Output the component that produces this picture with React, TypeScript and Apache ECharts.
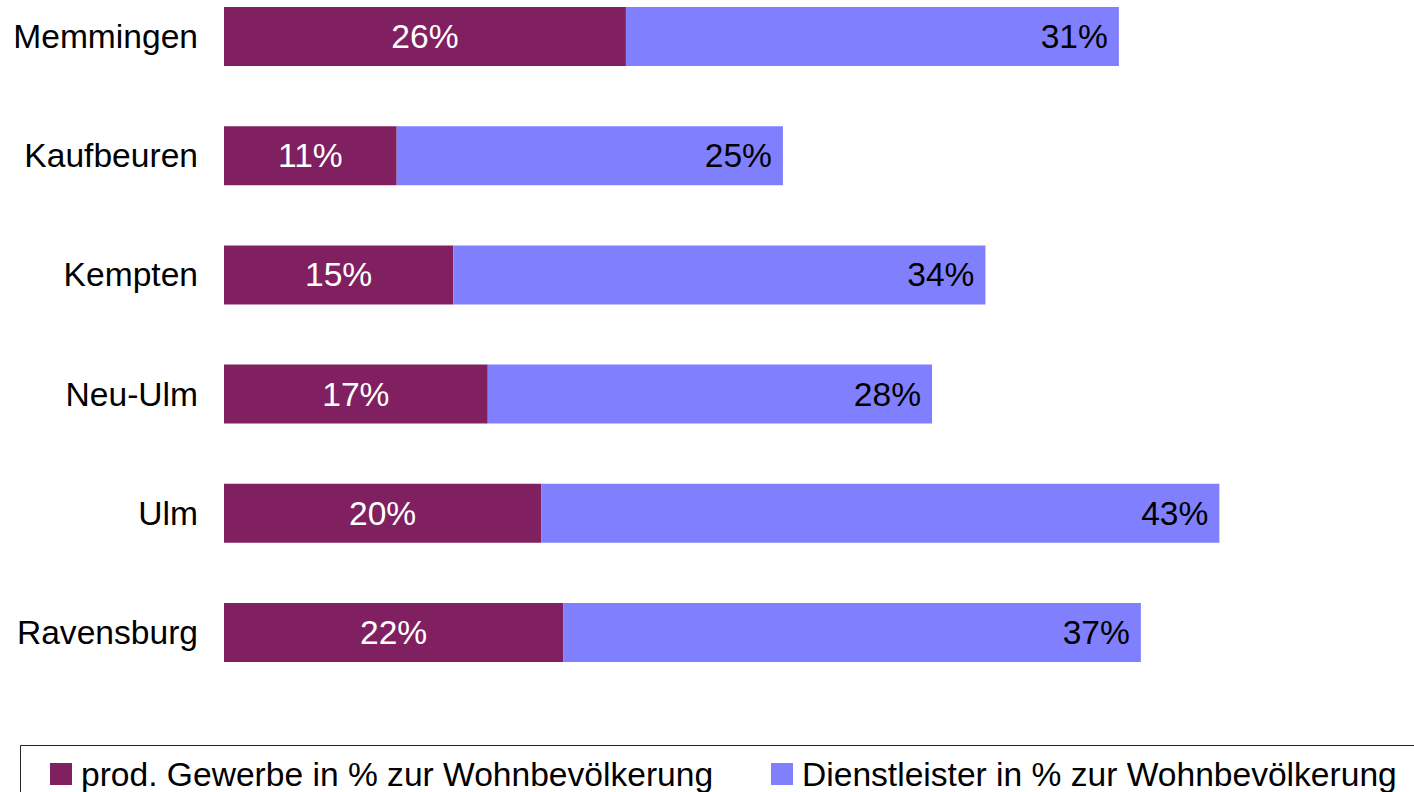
import React, { useEffect, useRef } from "react";
import * as echarts from "echarts";

const categories = ["Memmingen", "Kaufbeuren", "Kempten", "Neu-Ulm", "Ulm", "Ravensburg"];
const prodGewerbe = [25.6, 11.0, 14.6, 16.8, 20.2, 21.6];
const dienstleister = [31.4, 24.6, 33.9, 28.3, 43.2, 36.8];
const seriesNames = [
  "prod. Gewerbe in % zur Wohnbevölkerung",
  "Dienstleister in % zur Wohnbevölkerung",
];

const FONT = "'Liberation Sans', Arial, sans-serif";
const PURPLE = "#802060";
const BLUE = "#8080ff";
const SHIFT = 23;
const FS = 33.6;

export default function App() {
  const ref = useRef<HTMLDivElement>(null);
  useEffect(() => {
    document.body.style.margin = "0";
    if (!ref.current) return;
    const chart = echarts.init(ref.current, null, { renderer: "svg" });
    const pct = (p: any) => Math.round(p.value) + "%";
    const legendText = { fontSize: FS, color: "#000", fontFamily: FONT, lineHeight: 34, padding: [0, 0, 0, 4] };
    chart.setOption({
      animation: false,
      textStyle: { fontFamily: FONT },
      grid: { left: 224, top: 0, width: 1099, height: 715, containLabel: false },
      xAxis: {
        type: "value",
        min: 0,
        max: 70,
        show: false,
      },
      yAxis: {
        type: "category",
        inverse: true,
        data: categories,
        axisLine: { show: false },
        axisTick: { show: false },
        splitLine: { show: false },
        axisLabel: { fontSize: FS, color: "#000", fontFamily: FONT, margin: 26 },
      },
      legend: [
        {
          data: [seriesNames[0]],
          left: 50,
          top: 757 + SHIFT,
          itemWidth: 22,
          itemHeight: 22,
          icon: "rect",
          padding: 0,
          textStyle: legendText,
        },
        {
          data: [seriesNames[1]],
          left: 771,
          top: 757 + SHIFT,
          itemWidth: 22,
          itemHeight: 22,
          icon: "rect",
          padding: 0,
          textStyle: legendText,
        },
      ],
      graphic: [
        {
          type: "rect",
          shape: { x: 20.5, y: 745.5 + SHIFT, width: 1420, height: 100 },
          style: { fill: "none", stroke: "#222", lineWidth: 1 },
          silent: true,
          z: -1,
        },
      ],
      series: [
        {
          name: seriesNames[0],
          type: "bar",
          stack: "total",
          data: prodGewerbe,
          barWidth: 59,
          itemStyle: { color: PURPLE },
          label: {
            show: true,
            position: "inside",
            color: "#fff",
            fontSize: FS,
            fontFamily: FONT,
            formatter: pct,
          },
        },
        {
          name: seriesNames[1],
          type: "bar",
          stack: "total",
          data: dienstleister,
          barWidth: 59,
          itemStyle: { color: BLUE },
          label: {
            show: true,
            position: "insideRight",
            distance: 11,
            color: "#000",
            fontSize: FS,
            fontFamily: FONT,
            formatter: pct,
          },
        },
      ],
    });
    return () => chart.dispose();
  }, []);
  return (
    <div style={{ width: 1414, height: 792, overflow: "hidden", position: "relative" }}>
      <div ref={ref} style={{ position: "absolute", left: 0, top: -SHIFT, width: 1414, height: 792 + SHIFT }} />
    </div>
  );
}
